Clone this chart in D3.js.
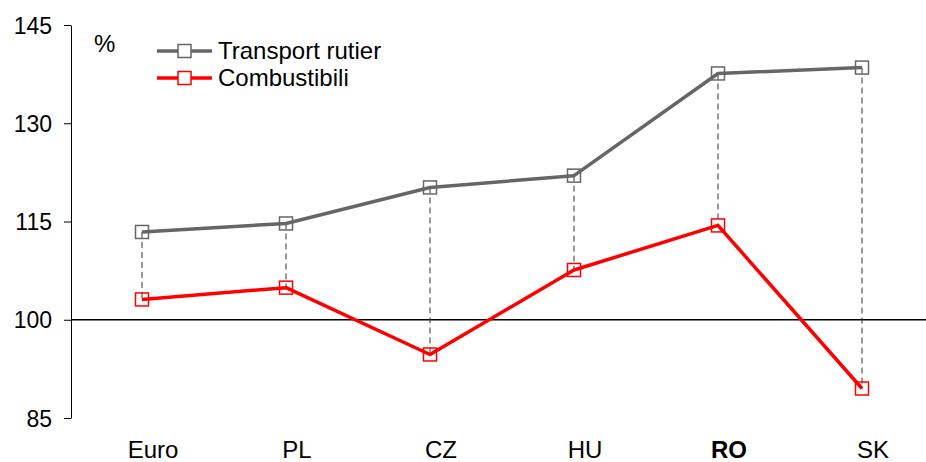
<!DOCTYPE html>
<html>
<head>
<meta charset="utf-8">
<style>
  body { margin: 0; background: #fff; }
  svg text { font-family: "Liberation Sans", Arial, sans-serif; fill: #000; }
  .tick text { font-size: 23px; }
</style>
</head>
<body>
<script src="https://cdn.jsdelivr.net/npm/d3@7"></script>
<script>
  var categories = ["Euro", "PL", "CZ", "HU", "RO", "SK"];
  var transport = [113.4, 114.7, 120.2, 122.0, 137.6, 138.5];
  var combustibili = [103.1, 104.9, 94.7, 107.6, 114.4, 89.5];
  var yTicks = [85, 100, 115, 130, 145];
  var seriesNames = ["Transport rutier", "Combustibili"];

  var W = 926, H = 462;
  var svg = d3.select("body").append("svg")
      .attr("width", W)
      .attr("height", H);

  var x = d3.scaleBand().domain(categories).range([70, 934]);
  var y = d3.scaleLinear().domain([85, 145]).range([418, 25]);
  var cx = function (c) { return x(c) + x.bandwidth() / 2; };

  // y axis
  var yAxis = d3.axisLeft(y).tickValues(yTicks).tickSize(7).tickSizeOuter(0).tickPadding(12);
  var ya = svg.append("g")
      .attr("transform", "translate(71,0)")
      .call(yAxis);
  ya.selectAll("line, path").attr("stroke", "#000").attr("stroke-width", 1);
  ya.selectAll(".tick text").attr("dy", "0.35em");

  // x labels (no axis line), sitting a little right of the points like the original
  svg.append("g").selectAll("text")
    .data(categories)
    .enter().append("text")
      .attr("x", function (d) { return cx(d); })
      .attr("dx", 11)
      .attr("y", 458)
      .attr("text-anchor", "middle")
      .style("font-size", "24px")
      .style("font-weight", function (d) { return d === "RO" ? "bold" : "normal"; })
      .text(function (d) { return d; });

  // 100 reference line
  svg.append("line")
      .attr("x1", 71).attr("x2", W)
      .attr("y1", y(100)).attr("y2", y(100))
      .attr("stroke", "#000").attr("stroke-width", 1.3);

  // dashed drop lines
  svg.append("g").selectAll("line")
    .data(categories)
    .enter().append("line")
      .attr("x1", function (d) { return cx(d); })
      .attr("x2", function (d) { return cx(d); })
      .attr("y1", function (d, i) { return y(transport[i]); })
      .attr("y2", function (d, i) { return y(combustibili[i]); })
      .attr("stroke", "#333")
      .attr("stroke-width", 1)
      .attr("stroke-dasharray", "6,4");

  var line = d3.line()
    .x(function (d, i) { return cx(categories[i]); })
    .y(function (d) { return y(d); });

  function drawSeries(vals, color) {
    svg.append("path")
        .attr("d", line(vals))
        .attr("fill", "none")
        .attr("stroke", color)
        .attr("stroke-width", 3.5)
        .attr("stroke-linejoin", "round");
    svg.append("g").selectAll("rect")
      .data(vals)
      .enter().append("rect")
        .attr("x", function (d, i) { return cx(categories[i]) - 6.5; })
        .attr("y", function (d) { return y(d) - 6.5; })
        .attr("width", 13)
        .attr("height", 13)
        .attr("fill", "none")
        .attr("stroke", color)
        .attr("stroke-width", 1.5);
  }
  drawSeries(transport, "#666666");
  drawSeries(combustibili, "#ff0000");

  // % label
  svg.append("text")
      .attr("x", 94).attr("y", 52)
      .style("font-size", "24px")
      .text("%");

  // legend
  var legendColors = ["#666666", "#ff0000"];
  var lg = svg.append("g").selectAll("g")
    .data(seriesNames)
    .enter().append("g")
      .attr("transform", function (d, i) { return "translate(157," + (51 + i * 27) + ")"; });
  lg.append("line")
      .attr("x1", 0).attr("x2", 55)
      .attr("stroke", function (d, i) { return legendColors[i]; })
      .attr("stroke-width", 3.5);
  lg.append("rect")
      .attr("x", 21).attr("y", -6.5)
      .attr("width", 13).attr("height", 13)
      .attr("fill", "#fff")
      .attr("stroke", function (d, i) { return legendColors[i]; })
      .attr("stroke-width", 1.5);
  lg.append("text")
      .attr("x", 61).attr("dy", "0.35em")
      .style("font-size", "24px")
      .text(function (d) { return d; });
</script>
</body>
</html>
